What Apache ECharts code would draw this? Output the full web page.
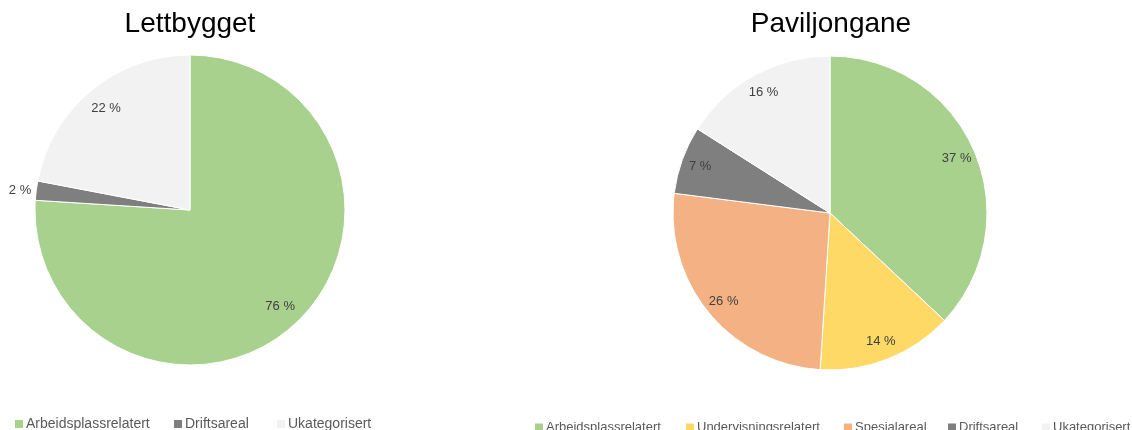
<!DOCTYPE html>
<html>
<head>
<meta charset="utf-8">
<script src="https://cdn.jsdelivr.net/npm/echarts@6/dist/echarts.min.js"></script>
<style>
  html, body { margin: 0; padding: 0; background: #fff; }
  #chart { width: 1132px; height: 430px; }
</style>
</head>
<body>
<div id="chart"></div>
<script>
  const leftTitle = 'Lettbygget';
  const rightTitle = 'Paviljongane';
  const leftNames = ['Arbeidsplassrelatert', 'Driftsareal', 'Ukategorisert'];
  const leftValues = [76, 2, 22];
  const rightNames = ['Arbeidsplassrelatert', 'Undervisningsrelatert', 'Spesialareal', 'Driftsareal', 'Ukategorisert'];
  const rightValues = [37, 14, 26, 7, 16];

  const colors = {
    'Arbeidsplassrelatert': '#a9d18e',
    'Undervisningsrelatert': '#ffd966',
    'Spesialareal': '#f4b183',
    'Driftsareal': '#7f7f7f',
    'Ukategorisert': '#f2f2f2'
  };
  const font = 'Liberation Sans, Arial, sans-serif';

  // legend x positions (one legend per item so spacing follows the picture)
  const leftLegendX = [15, 174, 277];
  const rightLegendX = [535, 686, 844, 948, 1042];

  function toData(names, values) {
    return names.map((n, i) => ({ name: n, value: values[i], itemStyle: { color: colors[n] } }));
  }

  // transparent ring on top of each pie, only to place labels near the rim
  function labelRing(names, values, center, r, inner) {
    return {
      type: 'pie',
      center: center,
      radius: [r * inner, r],
      silent: true,
      legendHoverLink: false,
      avoidLabelOverlap: false,
      itemStyle: { color: 'rgba(0,0,0,0)', borderWidth: 0 },
      label: {
        show: true,
        position: 'inside',
        color: '#404040',
        fontSize: 13,
        fontFamily: font,
        formatter: p => p.value + ' %'
      },
      labelLine: { show: false },
      data: names.map((n, i) => {
        const d = { name: n, value: values[i] };
        if (values[i] < 5) {
          d.label = { position: 'outside' };
          d.labelLine = { show: false, length: 0, length2: 0 };
        }
        return d;
      })
    };
  }

  function pie(names, values, center, r) {
    return {
      type: 'pie',
      center: center,
      radius: r,
      startAngle: 90,
      clockwise: true,
      label: { show: false },
      labelLine: { show: false },
      itemStyle: { borderColor: '#fff', borderWidth: 1 },
      emphasis: { scale: false },
      data: toData(names, values)
    };
  }

  const legends = [];
  leftNames.forEach((n, i) => {
    legends.push({
      data: [n], left: leftLegendX[i], top: 417, padding: 0,
      itemWidth: 8, itemHeight: 8, icon: 'rect', itemGap: 5,
      itemStyle: { borderWidth: 0 },
      textStyle: { color: '#595959', fontSize: 14, fontFamily: font, padding: [0, 0, 0, -2] }
    });
  });
  rightNames.forEach((n, i) => {
    legends.push({
      data: [n], left: rightLegendX[i], top: 421, padding: 0,
      itemWidth: 8, itemHeight: 8, icon: 'rect', itemGap: 5,
      itemStyle: { borderWidth: 0 },
      textStyle: { color: '#595959', fontSize: 13, fontFamily: font, padding: [0, 0, 0, -2] }
    });
  });

  const chart = echarts.init(document.getElementById('chart'));
  chart.setOption({
    animation: false,
    title: [
      { text: leftTitle, left: 190, top: 10, padding: 0, textAlign: 'center',
        textStyle: { fontSize: 28, fontWeight: 'normal', color: '#000', fontFamily: font } },
      { text: rightTitle, left: 831, top: 10, padding: 0, textAlign: 'center',
        textStyle: { fontSize: 28, fontWeight: 'normal', color: '#000', fontFamily: font } }
    ],
    legend: legends,
    series: [
      pie(leftNames, leftValues, [190, 210], 155),
      pie(rightNames, rightValues, [830, 213], 157),
      labelRing(leftNames, leftValues, [190, 210], 155, 0.66),
      labelRing(rightNames, rightValues, [830, 213], 157, 0.72)
    ]
  });
</script>
</body>
</html>
